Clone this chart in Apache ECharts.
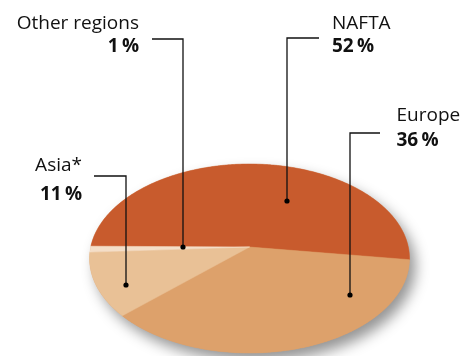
<!DOCTYPE html>
<html>
<head>
<meta charset="utf-8">
<script src="https://cdn.jsdelivr.net/npm/echarts@6/dist/echarts.min.js"></script>
<style>
html,body{margin:0;padding:0;background:#fff;}
#chart{width:460px;height:356px;}
</style>
</head>
<body>
<div id="chart"></div>
<script>
// ---- data ----
const categories = ['NAFTA', 'Europe', 'Asia*', 'Other regions'];
const shares = [52, 36, 11, 1];
const shareLabels = ['52\u2009%', '36\u2009%', '11\u2009%', '1\u2009%'];

// ---- style / layout ----
const colors = ['#C85B2D', '#DDA16B', '#E9C196', '#F4DEC8'];
const startAngle = 180.5; // degrees, clockwise on screen from +x
// tilted-disc projection (unit circle -> screen)
const P = { x0: 249.5, k: 158.8, a: 63.04, b: 247, c: -0.1217 };
function proj(u, v) {
  const d = 1 + P.c * v;
  return [P.x0 + P.k * u / d, (P.a * v + P.b) / d];
}
function rim(a0, a1) {
  const pts = [];
  const n = Math.max(2, Math.ceil(Math.abs(a1 - a0) / 0.5));
  for (let i = 0; i <= n; i++) {
    const t = (a0 + (a1 - a0) * i / n) * Math.PI / 180;
    pts.push(proj(Math.cos(t), Math.sin(t)));
  }
  return pts;
}
const total = shares.reduce((s, v) => s + v, 0);
const starts = [];
{ let acc = 0; shares.forEach(v => { starts.push(startAngle + 360 * acc / total); acc += v; }); }

const font = '"Open Sans", "Noto Sans", sans-serif';
const textColor = '#111';
const labelLayout = [
  { i: 3, x: 139, align: 'right', ny: 24, py: 47, line: [[152, 39], [183, 39], [183, 247]] },
  { i: 0, x: 332, align: 'left', ny: 24, py: 47, line: [[319, 38], [287, 38], [287, 201]] },
  { i: 1, x: 396.5, align: 'left', ny: 115.5, py: 140.5, line: [[380, 133], [350, 133], [350, 295]] },
  { i: 2, x: 82, align: 'right', ny: 166, py: 194.5, line: [[94, 176], [126, 176], [126, 285]] }
];

const graphics = [];
labelLayout.forEach(l => {
  graphics.push({ type: 'text', z: 100, style: { text: categories[l.i], x: l.x, y: l.ny, align: l.align, verticalAlign: 'middle', font: '19px ' + font, fill: textColor } });
  graphics.push({ type: 'text', z: 100, style: { text: shareLabels[l.i], x: l.x, y: l.py, align: l.align, verticalAlign: 'middle', font: 'bold 19px ' + font, fill: textColor } });
  graphics.push({ type: 'polyline', z: 100, shape: { points: l.line }, style: { stroke: '#111', lineWidth: 1.3, fill: null } });
  const e = l.line[l.line.length - 1];
  graphics.push({ type: 'circle', z: 101, shape: { cx: e[0], cy: e[1], r: 2.6 }, style: { fill: '#000' } });
});

const chart = echarts.init(document.getElementById('chart'), null, { renderer: 'canvas', width: 460, height: 356 });
chart.setOption({
  animation: false,
  backgroundColor: '#fff',
  graphic: graphics,
  series: [{
    type: 'custom',
    coordinateSystem: 'none',
    silent: true,
    data: shares.map((v, i) => ({ name: categories[i], value: [v] })),
    renderItem: function (params, api) {
      const i = params.dataIndex;
      const v = api.value(0);
      const a0 = starts[i];
      const a1 = a0 + 360 * v / total;
      const pts = [proj(0, 0)].concat(rim(a0, a1));
      const children = [];
      if (i === 0) {
        children.push({
          type: 'polygon',
          shape: { points: rim(0, 360) },
          style: { fill: colors[1], shadowBlur: 14, shadowOffsetX: 6, shadowOffsetY: 8, shadowColor: 'rgba(0,0,0,0.42)' }
        });
      }
      children.push({ type: 'polygon', shape: { points: pts }, style: { fill: colors[i], stroke: colors[i], lineWidth: 0.5 } });
      return { type: 'group', children: children };
    }
  }]
});
</script>
</body>
</html>
